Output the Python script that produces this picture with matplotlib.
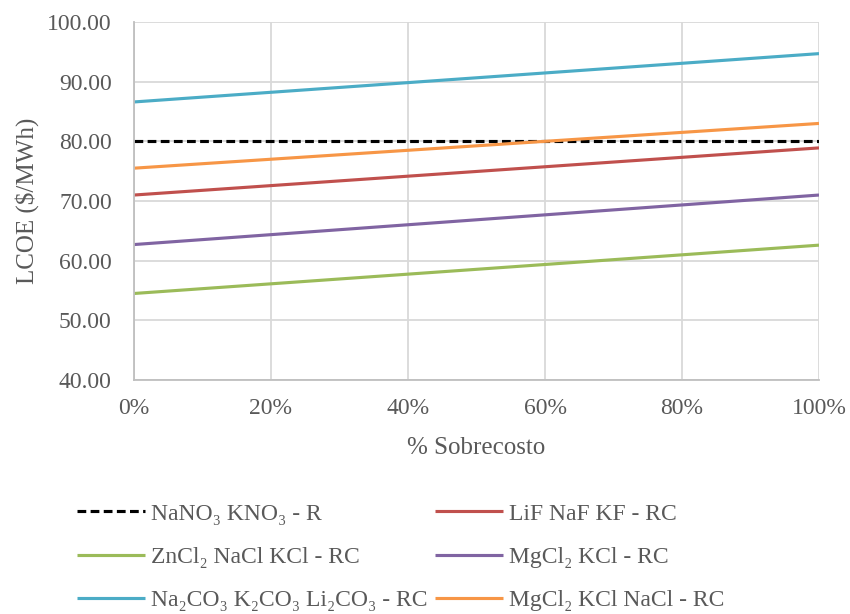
import matplotlib
matplotlib.use("Agg")
import matplotlib.pyplot as plt
from matplotlib.ticker import FuncFormatter, MultipleLocator

plt.rcParams['font.family'] = ['Liberation Serif', 'DejaVu Serif']

x = [0.0, 1.0]
series_names = [
    "NaNO₃ KNO₃ - R",
    "LiF NaF KF - RC",
    "ZnCl₂ NaCl KCl - RC",
    "MgCl₂ KCl - RC",
    "Na₂CO₃ K₂CO₃ Li₂CO₃ - RC",
    "MgCl₂ KCl NaCl - RC",
]
nano3_kno3 = [80.0, 80.0]
lif_naf_kf = [71.0, 78.9]
zncl2_nacl_kcl = [54.5, 62.6]
mgcl2_kcl = [62.7, 71.0]
carbonates = [86.6, 94.7]
mgcl2_kcl_nacl = [75.5, 83.0]

values = [nano3_kno3, lif_naf_kf, zncl2_nacl_kcl, mgcl2_kcl, carbonates, mgcl2_kcl_nacl]
colors = ["#000000", "#C0504D", "#9BBB59", "#8064A2", "#4BACC6", "#F79646"]
styles = [(0, (2.8, 1.4)), "-", "-", "-", "-", "-"]

text_color = "#595959"
fig = plt.figure(figsize=(8.5, 6.14), dpi=100)
ax = fig.add_axes([134/850, 1-380/614, (819-134)/850, (380-22)/614])

handles = []
for name, v, c, ls in zip(series_names, values, colors, styles):
    h, = ax.plot(x, v, color=c, linestyle=ls, linewidth=2.25, label=name, solid_capstyle='butt')
    handles.append(h)

ax.set_xlim(0, 1)
ax.set_ylim(40, 100)
ax.xaxis.set_major_locator(MultipleLocator(0.2))
ax.yaxis.set_major_locator(MultipleLocator(10))
ax.xaxis.set_major_formatter(FuncFormatter(lambda v, p: f"{v*100:.0f}%"))
ax.yaxis.set_major_formatter(FuncFormatter(lambda v, p: f"{v:.2f}"))
ax.grid(True, color="#D9D9D9", linewidth=1.3)
ax.set_axisbelow(True)
for s in ["top", "right"]:
    ax.spines[s].set_visible(False)
for s in ["left", "bottom"]:
    ax.spines[s].set_color("#BFBFBF")
    ax.spines[s].set_linewidth(1.3)
ax.tick_params(length=0, labelsize=17, colors=text_color)
ax.tick_params(axis='y', pad=16)
ax.tick_params(axis='x', pad=13)
ax.set_xlabel("% Sobrecosto", fontsize=18, color=text_color, labelpad=13)
ax.set_ylabel("LCOE ($/MWh)", fontsize=18, color=text_color, labelpad=6)

order = [0, 2, 4, 1, 3, 5]
leg = fig.legend([handles[i] for i in order], [series_names[i] for i in order],
                 loc="upper left", bbox_to_anchor=(77/850, 1-503/614), ncol=2, frameon=False,
                 fontsize=17, handlelength=2.9, handletextpad=0.25, columnspacing=0.3,
                 labelspacing=0.92, borderaxespad=0, borderpad=0)
for t in leg.get_texts():
    t.set_color(text_color)

fig.savefig("out.png", dpi=100)
